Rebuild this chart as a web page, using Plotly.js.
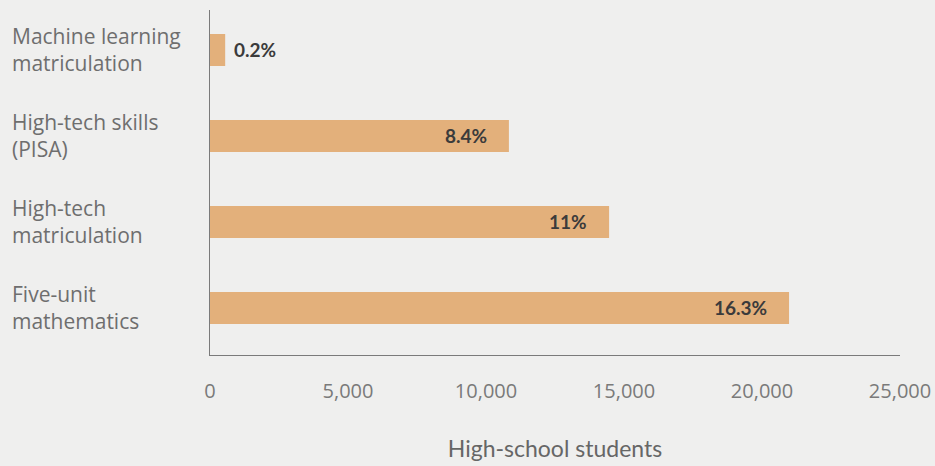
<!DOCTYPE html>
<html>
<head>
<meta charset="utf-8">
<script src="https://cdn.plot.ly/plotly-3.0.1.min.js"></script>
<style>
html,body{margin:0;padding:0;background:#efefee;}
#chart{width:935px;height:466px;}
</style>
</head>
<body>
<div id="chart"></div>
<script>
// Data
const categories = ["Machine learning<br>matriculation", "High-tech skills<br>(PISA)", "High-tech<br>matriculation", "Five-unit<br>mathematics"];
const students = [550, 10830, 14460, 20980];
const shares = ["0.2%", "8.4%", "11%", "16.3%"];
const tickValues = [0, 5000, 10000, 15000, 20000, 25000];
const tickLabels = ["0", "5,000", "10,000", "15,000", "20,000", "25,000"];

const FONT = "Lato, 'Open Sans', sans-serif";
const FONT2 = "'Open Sans', Lato, sans-serif";

const trace = {
  type: "bar",
  orientation: "h",
  x: students,
  y: categories,
  width: 0.372,
  marker: {color: "#e3b07b", line: {width: 0}},
  hoverinfo: "none"
};

const annotations = [];
categories.forEach((c, i) => {
  // category label, left aligned
  annotations.push({
    xref: "paper", yref: "y", x: -0.29, y: c,
    xanchor: "left", yanchor: "middle", align: "left",
    text: c, showarrow: false,
    font: {family: FONT2, size: 21, color: "#6e6e6e"}
  });
  const outside = students[i] < 2000;
  annotations.push({
    xref: "x", yref: "y", x: students[i], y: c,
    xanchor: outside ? "left" : "right", yanchor: "middle",
    xshift: outside ? 7 : -20,
    text: "<b>" + shares[i] + "</b>", showarrow: false,
    font: {family: FONT, size: 19, color: "#3b3b3b"}
  });
});

const layout = {
  width: 935, height: 466,
  margin: {l: 210, r: 35, t: 10, b: 111, pad: 0},
  paper_bgcolor: "#efefee",
  plot_bgcolor: "rgba(0,0,0,0)",
  showlegend: false,
  font: {family: FONT},
  xaxis: {
    range: [0, 25000],
    tickvals: tickValues,
    ticktext: tickLabels,
    showgrid: false, zeroline: false,
    showline: true, linecolor: "#7a7a7a", linewidth: 1,
    ticks: "", ticklabelstandoff: 18,
    tickfont: {family: FONT2, size: 20, color: "#7a7a7a"},
    title: {text: "High-school students", standoff: 37, font: {family: FONT, size: 23, color: "#666666"}},
    fixedrange: true
  },
  yaxis: {
    type: "category",
    range: [3.547, -0.465],
    showgrid: false, zeroline: false,
    showline: true, linecolor: "#7a7a7a", linewidth: 1,
    showticklabels: false, ticks: "",
    fixedrange: true
  },
  annotations: annotations
};

Plotly.newPlot("chart", [trace], layout, {displayModeBar: false, staticPlot: true});
</script>
</body>
</html>
